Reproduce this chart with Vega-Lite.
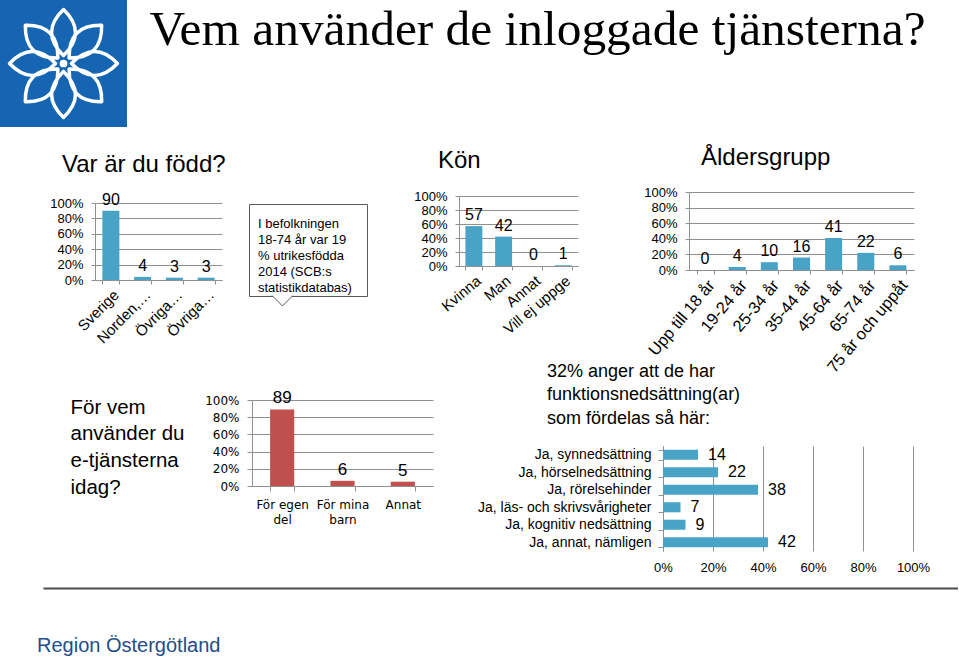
{
  "$schema": "https://vega.github.io/schema/vega-lite/v6.json",
  "padding": 0,
  "background": "#ffffff",
  "spacing": 0,
  "datasets": {
    "tom": [],
    "logo": [{"symbol": "blomma"}],
    "rubrik": [{"text": "Vem använder de inloggade tjänsterna?"}],
    "fodd": [
      {"land": "Sverige", "andel": 90},
      {"land": "Norden, utom Sverige", "andel": 4},
      {"land": "Övriga Europa", "andel": 3},
      {"land": "Övriga världen", "andel": 3}
    ],
    "ruta": [{"text": "I befolkningen\n18-74 år var 19\n% utrikesfödda\n2014 (SCB:s\nstatistikdatabas)"}],
    "kon": [
      {"kon": "Kvinna", "andel": 57},
      {"kon": "Man", "andel": 42},
      {"kon": "Annat", "andel": 0},
      {"kon": "Vill ej uppge", "andel": 1}
    ],
    "alder": [
      {"grupp": "Upp till 18 år", "andel": 0},
      {"grupp": "19-24 år", "andel": 4},
      {"grupp": "25-34 år", "andel": 10},
      {"grupp": "35-44 år", "andel": 16},
      {"grupp": "45-64 år", "andel": 41},
      {"grupp": "65-74 år", "andel": 22},
      {"grupp": "75 år och uppåt", "andel": 6}
    ],
    "forvem": [
      {"syfte": "För egen del", "andel": 89},
      {"syfte": "För mina barn", "andel": 6},
      {"syfte": "Annat", "andel": 5}
    ],
    "funktion": [
      {"typ": "Ja, synnedsättning", "andel": 14},
      {"typ": "Ja, hörselnedsättning", "andel": 22},
      {"typ": "Ja, rörelsehinder", "andel": 38},
      {"typ": "Ja, läs- och skrivsvårigheter", "andel": 7},
      {"typ": "Ja, kognitiv nedsättning", "andel": 9},
      {"typ": "Ja, annat, nämligen", "andel": 42}
    ],
    "footer": [{"org": "Region Östergötland"}]
  },
  "vconcat": [
    {
      "spacing": 0,
      "hconcat": [
        {
          "data": {"name": "logo"},
          "width": 127,
          "height": 127,
          "view": {"fill": "#1565b3", "stroke": null},
          "layer": [
            {"mark": {"type": "point", "shape": "M0,-0.14 Q0.42,-0.55 0,-0.95 Q-0.42,-0.55 0,-0.14 Z M0.099,-0.099 Q0.686,-0.092 0.672,-0.672 Q0.092,-0.686 0.099,-0.099 Z M0.14,0 Q0.55,0.42 0.95,0 Q0.55,-0.42 0.14,0 Z M0.099,0.099 Q0.092,0.686 0.672,0.672 Q0.686,0.092 0.099,0.099 Z M0,0.14 Q-0.42,0.55 0,0.95 Q0.42,0.55 0,0.14 Z M-0.099,0.099 Q-0.686,0.092 -0.672,0.672 Q-0.092,0.686 -0.099,0.099 Z M-0.14,0 Q-0.55,-0.42 -0.95,0 Q-0.55,0.42 -0.14,0 Z M-0.099,-0.099 Q-0.092,-0.686 -0.672,-0.672 Q-0.686,-0.092 -0.099,-0.099 Z",
              "size": 12900, "filled": false, "stroke": "#ffffff", "strokeWidth": 3.5, "opacity": 1, "strokeJoin": "round"},
             "encoding": {}},
            {"mark": {"type": "point", "shape": "circle", "size": 60, "filled": true, "fill": "#ffffff", "opacity": 1}, "encoding": {}}
          ]
        },
        {
          "data": {"name": "rubrik"},
          "width": 821,
          "height": 90,
          "mark": {"type": "text", "font": "Liberation Serif", "fontSize": 49.4, "baseline": "alphabetic", "align": "center", "color": "#000000"},
          "encoding": {"text": {"field": "text"}}
        }
      ]
    },
    {
      "spacing": -20,
      "vconcat": [
        {
          "spacing": 22,
          "hconcat": [
            {"data": {"name": "tom"}, "mark": "point", "width": 1, "height": 1},
            {
              "spacing": 0,
              "vconcat": [
                {"data": {"name": "tom"}, "mark": "point", "width": 1, "height": 26},
                {
                  "data": {"name": "fodd"},
                  "width": 127,
                  "height": 77,
                  "title": {"text": "Var är du född?", "fontSize": 24, "dx": -33, "offset": 14.7},
                  "encoding": {
                    "x": {"field": "land", "type": "nominal", "sort": null,
                      "scale": {"paddingInner": 0.465, "paddingOuter": 0.2325},
                      "axis": {"title": null, "labelAngle": -45, "labelAlign": "right", "labelBaseline": "top", "labelFontSize": 15, "labelPadding": 3, "tickBand": "extent", "tickSize": 4,
                        "labelExpr": "indexof(datum.label, ' ') > 0 ? split(datum.label, ' ')[0] + '…' : datum.label"}},
                    "y": {"field": "andel", "type": "quantitative", "scale": {"domain": [0, 100]},
                      "axis": {"title": null, "values": [0, 20, 40, 60, 80, 100], "labelExpr": "datum.value + '%'", "tickSize": 4, "labelPadding": 8, "minExtent": 72}}
                  },
                  "layer": [
                    {"mark": {"type": "bar", "color": "#48a3c6"}},
                    {"mark": {"type": "text", "fontSize": 16, "dy": -6, "baseline": "alphabetic"}, "encoding": {"text": {"field": "andel"}}}
                  ]
                }
              ]
            },
            {
              "spacing": 0,
              "vconcat": [
                {"data": {"name": "tom"}, "mark": "point", "width": 1, "height": 75.5},
                {
                  "data": {"name": "ruta"},
                  "width": 118,
                  "height": 92,
                  "view": {"stroke": "#595959", "strokeWidth": 1},
                  "layer": [
                    {"mark": {"type": "text", "align": "left", "baseline": "alphabetic", "dx": -50, "dy": -22.3, "fontSize": 13, "lineHeight": 16.1, "lineBreak": "\n", "color": "#000000"},
                     "encoding": {"text": {"field": "text"}}},
                    {"mark": {"type": "point", "shape": "M -3.43 4.33 L -2.43 5.33 L -1.43 4.33", "size": 441, "filled": true, "fill": "#ffffff", "stroke": "#595959", "strokeWidth": 1, "opacity": 1},
                     "encoding": {}}
                  ]
                }
              ]
            },
            {
              "spacing": 0,
              "vconcat": [
                {"data": {"name": "tom"}, "mark": "point", "width": 1, "height": 22},
                {
                  "data": {"name": "kon"},
                  "width": 119,
                  "height": 70,
                  "title": {"text": "Kön", "fontSize": 24, "dx": -21, "offset": 17},
                  "encoding": {
                    "x": {"field": "kon", "type": "nominal", "sort": null,
                      "scale": {"paddingInner": 0.43, "paddingOuter": 0.215},
                      "axis": {"title": null, "labelAngle": -40, "labelAlign": "right", "labelBaseline": "top", "labelFontSize": 15, "labelPadding": 3, "tickBand": "extent", "tickSize": 4}},
                    "y": {"field": "andel", "type": "quantitative", "scale": {"domain": [0, 100]},
                      "axis": {"title": null, "values": [0, 20, 40, 60, 80, 100], "labelExpr": "datum.value + '%'", "tickSize": 4, "labelPadding": 8, "minExtent": 69}}
                  },
                  "layer": [
                    {"mark": {"type": "bar", "color": "#48a3c6"}},
                    {"mark": {"type": "text", "fontSize": 16, "dy": -6, "baseline": "alphabetic"}, "encoding": {"text": {"field": "andel"}}}
                  ]
                }
              ]
            },
            {
              "spacing": 0,
              "vconcat": [
                {"data": {"name": "tom"}, "mark": "point", "width": 1, "height": 19},
                {
                  "data": {"name": "alder"},
                  "width": 225,
                  "height": 78,
                  "title": {"text": "Åldersgrupp", "fontSize": 24, "dx": 12, "offset": 16},
                  "encoding": {
                    "x": {"field": "grupp", "type": "nominal", "sort": null,
                      "scale": {"paddingInner": 0.47, "paddingOuter": 0.235},
                      "axis": {"title": null, "labelAngle": -50, "labelAlign": "right", "labelBaseline": "top", "labelFontSize": 16.5, "labelPadding": 3, "tickBand": "extent", "tickSize": 4, "minExtent": 112}},
                    "y": {"field": "andel", "type": "quantitative", "scale": {"domain": [0, 100]},
                      "axis": {"title": null, "values": [0, 20, 40, 60, 80, 100], "labelExpr": "datum.value + '%'", "tickSize": 4, "labelPadding": 8, "minExtent": 89}}
                  },
                  "layer": [
                    {"mark": {"type": "bar", "color": "#48a3c6"}},
                    {"mark": {"type": "text", "fontSize": 16, "dy": -6, "baseline": "alphabetic"}, "encoding": {"text": {"field": "andel"}}}
                  ]
                }
              ]
            }
          ]
        },
        {
          "spacing": 0,
          "hconcat": [
            {"data": {"name": "tom"}, "mark": "point", "width": 1, "height": 1},
            {
              "data": {"name": "forvem"},
              "width": 181,
              "height": 86,
              "encoding": {
                "x": {"field": "syfte", "type": "nominal", "sort": null,
                  "scale": {"paddingInner": 0.6, "paddingOuter": 0.3},
                  "axis": {"title": null, "labelAngle": 0, "labelAlign": "center", "labelBaseline": "top", "labelFont": "DejaVu Sans", "labelFontSize": 12, "labelLineHeight": 15, "labelPadding": 8, "tickBand": "extent", "tickSize": 5,
                    "labelExpr": "datum.label == 'För egen del' ? ['För egen', 'del'] : datum.label == 'För mina barn' ? ['För mina', 'barn'] : datum.label"}},
                "y": {"field": "andel", "type": "quantitative", "scale": {"domain": [0, 100]},
                  "axis": {"values": [0, 20, 40, 60, 80, 100], "labelExpr": "datum.value + '%'", "labelFont": "DejaVu Sans", "labelFontSize": 12, "tickSize": 5, "labelPadding": 8, "minExtent": 251,
                    "title": ["För vem", "använder du", "e-tjänsterna", "idag?"], "titleAngle": 0, "titleAlign": "left", "titleBaseline": "alphabetic", "titleX": -182, "titleY": 13, "titleFontSize": 20.5, "titleFontWeight": "normal", "titleLineHeight": 26.7, "titleFont": "Liberation Sans", "titleColor": "#000000"}}
              },
              "layer": [
                {"mark": {"type": "bar", "color": "#c0504d"}},
                {"mark": {"type": "text", "fontSize": 17, "dy": -6, "baseline": "alphabetic"}, "encoding": {"text": {"field": "andel"}}}
              ]
            },
            {
              "spacing": 0,
              "vconcat": [
                {"data": {"name": "tom"}, "mark": "point", "width": 1, "height": 39,
                 "title": {"text": ["32% anger att de har", "funktionsnedsättning(ar)", "som fördelas så här:"], "fontSize": 18, "lineHeight": 23.5, "dx": -116, "offset": -27.5}},
                {
                  "data": {"name": "funktion"},
                  "width": 250,
                  "height": 105,
                  "encoding": {
                    "y": {"field": "typ", "type": "nominal", "sort": null,
                      "scale": {"paddingInner": 0.425, "paddingOuter": 0.2125},
                      "axis": {"title": null, "labelFontSize": 14, "labelPadding": 7, "tickBand": "extent", "tickSize": 5, "minExtent": 230, "labelLimit": 300}},
                    "x": {"field": "andel", "type": "quantitative", "scale": {"domain": [0, 100]},
                      "axis": {"title": null, "values": [0, 20, 40, 60, 80, 100], "labelExpr": "datum.value + '%'", "labelFlush": false, "domain": false, "ticks": false, "tickSize": 0, "labelPadding": 10, "labelFontSize": 13, "grid": true}}
                  },
                  "layer": [
                    {"mark": {"type": "bar", "color": "#48a3c6"}},
                    {"mark": {"type": "text", "align": "left", "baseline": "middle", "dx": 10, "fontSize": 16}, "encoding": {"text": {"field": "andel"}}}
                  ]
                }
              ]
            }
          ]
        }
      ]
    },
    {
      "spacing": 36,
      "hconcat": [
        {"data": {"name": "tom"}, "mark": "point", "width": 1, "height": 1},
        {
          "data": {"name": "footer"},
          "width": 915,
          "height": 64,
          "mark": {"type": "text", "align": "left", "baseline": "alphabetic", "dx": -6, "fontSize": 20, "color": "#1d4d8a"},
          "encoding": {
            "text": {"field": "org"},
            "x": {"field": "org", "type": "nominal", "bandPosition": 0,
              "scale": {"type": "band", "paddingInner": 0, "paddingOuter": 0},
              "axis": {"orient": "top", "title": null, "labels": false, "ticks": false, "grid": false, "domain": true, "domainColor": "#4d4d4d", "domainWidth": 2, "minExtent": 14}},
            "y": {"field": "org", "type": "nominal", "bandPosition": 1,
              "scale": {"type": "band", "paddingInner": 0, "paddingOuter": 0},
              "axis": null}
          }
        }
      ]
    }
  ],
  "config": {
    "view": {"stroke": null},
    "font": "Liberation Sans",
    "title": {"fontWeight": "normal", "color": "#000000", "font": "Liberation Sans", "anchor": "start", "frame": "group"},
    "axis": {"labelColor": "#000000", "labelFont": "Liberation Sans", "labelFontSize": 13, "gridColor": "#909090", "domainColor": "#909090", "tickColor": "#909090", "labelOverlap": false},
    "text": {"color": "#000000"}
  }
}
